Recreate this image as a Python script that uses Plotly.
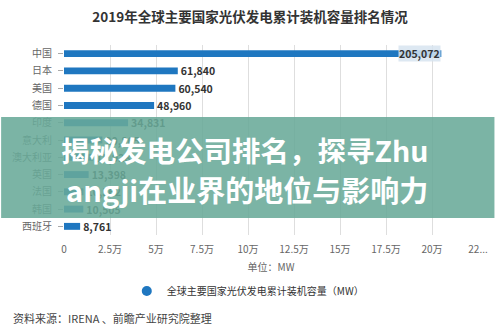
import plotly.graph_objects as go

categories = ["中国", "日本", "美国", "德国", "印度", "意大利", "澳大利亚", "英国", "法国", "韩国", "西班牙"]
capacity_mw = [205072, 61840, 60540, 48960, 34831, 20865, 15928, 13398, 10562, 10505, 8761]
tick_values = [0, 25000, 50000, 75000, 100000, 125000, 150000, 175000, 200000, 225000]
tick_labels = ["0", "2.5万", "5万", "7.5万", "10万", "12.5万", "15万", "17.5万", "20万", "22..."]

FONT = "Noto Sans CJK SC"
BLUE = "#1f77c0"

# plot area in pixels: x 60..488, y 45..235
L, R, T, B = 60, 12, 45, 100
W, H = 500, 335
pw, ph = W - L - R, H - T - B


def px_x(x):
    return (x - L) / pw


def px_y(y):
    return 1 - (y - T) / ph


labels = [f"{v:,}" for v in capacity_mw]
labels[0] = ""

fig = go.Figure()
fig.add_trace(go.Bar(
    x=capacity_mw, y=categories, orientation="h",
    marker=dict(color=BLUE, line=dict(width=0)),
    text=labels, textposition="outside", cliponaxis=False, constraintext="none",
    textfont=dict(family=FONT, size=10.5, color="#333333", weight="bold"),
    showlegend=False, hoverinfo="skip",
))
fig.add_trace(go.Scatter(
    x=[None], y=[None], mode="markers",
    marker=dict(symbol="circle", size=10, color=BLUE),
    name="全球主要国家光伏发电累计装机容量（MW）", showlegend=True,
))

# China label sits at the bar end
fig.add_annotation(
    x=capacity_mw[0], y=categories[0], xref="x", yref="y",
    text=f"{capacity_mw[0]:,}", showarrow=False, xanchor="right", yanchor="middle",
    font=dict(family=FONT, size=10.5, color="#333333", weight="bold"),
    bgcolor="rgba(215,228,240,0.85)", borderpad=0,
)

fig.update_layout(
    width=W, height=H,
    margin=dict(l=L, r=R, t=T, b=B),
    paper_bgcolor="white", plot_bgcolor="white",
    bargap=0.6,
    font=dict(family=FONT, color="#555555"),
    title=dict(
        text="<b>2019年全球主要国家光伏发电累计装机容量排名情况</b>",
        x=0.5, xanchor="center", y=1 - 17 / H, yanchor="middle",
        font=dict(family=FONT, size=13.5, color="#333333"),
    ),
    xaxis=dict(
        range=[0, 225000], tickvals=tick_values, ticktext=tick_labels,
        showgrid=True, gridcolor="#dedede", gridwidth=1, zeroline=False,
        showline=False, ticks="outside", ticklen=5, tickcolor="rgba(0,0,0,0)",
        tickfont=dict(family=FONT, size=10, color="#666666"),
        title=dict(text="单位：MW", font=dict(family=FONT, size=10, color="#666666"), standoff=8),
    ),
    yaxis=dict(
        categoryorder="array", categoryarray=categories, autorange="reversed",
        showgrid=False, zeroline=False, showline=False,
        ticks="outside", ticklen=5, tickcolor="#aaaaaa",
        tickfont=dict(family=FONT, size=10, color="#666666"),
        ticklabelstandoff=4,
    ),
    legend=dict(
        orientation="h", x=px_x(250), xanchor="center", y=px_y(291), yanchor="middle",
        font=dict(family=FONT, size=10, color="#333333"),
        bgcolor="rgba(0,0,0,0)", itemwidth=30,
    ),
)

fig.add_annotation(
    x=px_x(5), y=px_y(318), xref="paper", yref="paper",
    text="资料来源：IRENA 、前瞻产业研究院整理", showarrow=False,
    xanchor="left", yanchor="middle",
    font=dict(family=FONT, size=11, color="#444444"),
)

# overlay banner
fig.add_shape(
    type="rect", xref="paper", yref="paper",
    x0=px_x(-5), x1=px_x(505), y0=px_y(218), y1=px_y(117),
    fillcolor="rgba(105,170,152,0.88)", line=dict(width=0), layer="above",
)
fig.add_annotation(
    x=px_x(55), y=px_y(149), xref="paper", yref="paper",
    text="<b>揭秘发电公司排名，探寻Zhu</b>", showarrow=False,
    xanchor="left", yanchor="middle",
    font=dict(family=FONT, size=28.5, color="white"),
)
fig.add_annotation(
    x=px_x(60), y=px_y(189), xref="paper", yref="paper",
    text="<b>angji在业界的地位与影响力</b>", showarrow=False,
    xanchor="left", yanchor="middle",
    font=dict(family=FONT, size=29, color="white"),
)

fig.write_html("out.html")
